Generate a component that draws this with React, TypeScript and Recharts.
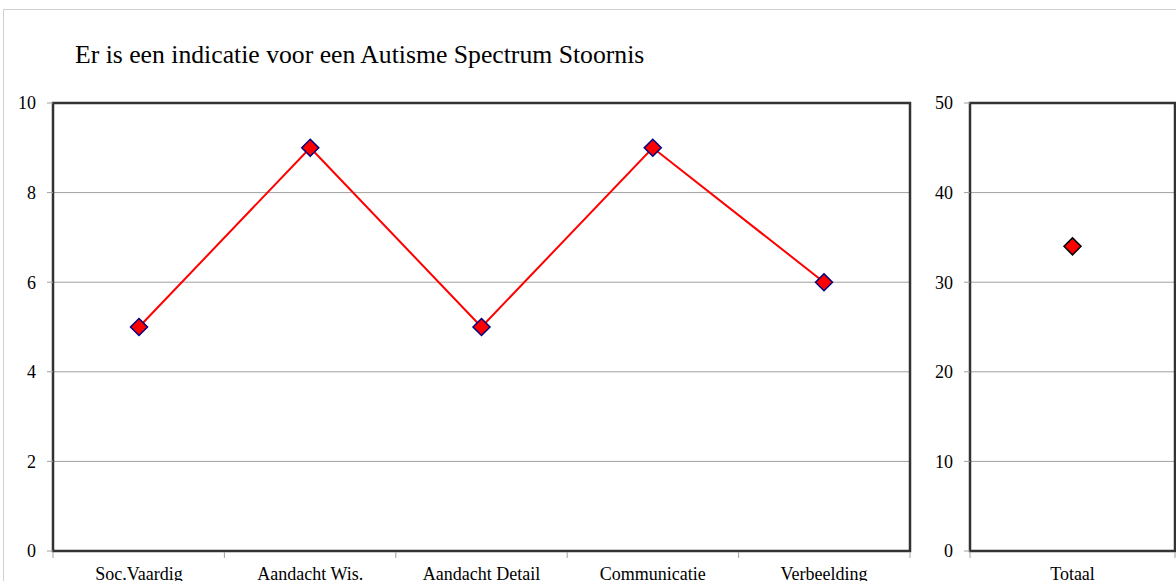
import React from "react";
import { LineChart, Line, XAxis, YAxis, CartesianGrid, ReferenceArea } from "recharts";

const title = "Er is een indicatie voor een Autisme Spectrum Stoornis";
const categories = ["Soc.Vaardig", "Aandacht Wis.", "Aandacht Detail", "Communicatie", "Verbeelding"];
const scores = [5, 9, 5, 9, 6];
const scoreTicks = [0, 2, 4, 6, 8, 10];
const totalCategories = ["Totaal"];
const totalScores = [34];
const totalTicks = [0, 10, 20, 30, 40, 50];

const data = categories.map((name, i) => ({ name, score: scores[i], edge: i + 0.5 }));
const totalData = totalCategories.map((name, i) => ({ name, score: totalScores[i], edge: i + 0.5 }));
// category boundaries, for the small tick marks between labels
const edges = [...categories.map((_, i) => i), categories.length];
const totalEdges = [...totalCategories.map((_, i) => i), totalCategories.length];

const font = "'Times New Roman', Times, 'Liberation Serif', 'DejaVu Serif', serif";
const tickStyle = { fill: "#000", fontSize: 18, fontFamily: font };
const gridColor = "#a0a0a0";
const frameColor = "#333";

const diamond = (stroke: string) => (props: any) => {
  const { cx, cy, index } = props;
  if (cx == null || cy == null) return <g key={index} />;
  const r = 8.5;
  return (
    <path
      key={index}
      d={`M${cx},${cy - r}L${cx + r},${cy}L${cx},${cy + r}L${cx - r},${cy}Z`}
      fill="#ff0000"
      stroke={stroke}
      strokeWidth={1.5}
    />
  );
};

const noLabel = (p: any) => <g key={p.index} />;

function Panel(props: {
  rows: { name: string; score: number; edge: number }[];
  ticks: number[];
  bounds: number[];
  width: number;
  left: number;
  marginLeft: number;
  marginRight: number;
  dotStroke: string;
}) {
  const { rows, ticks, bounds, width, left, marginLeft, marginRight, dotStroke } = props;
  const top = ticks[ticks.length - 1];
  const last = bounds[bounds.length - 1];
  return (
    <div style={{ position: "absolute", left, top: 0 }}>
      <LineChart
        width={width}
        height={581}
        data={rows}
        margin={{ top: 103, right: marginRight, bottom: 28, left: marginLeft }}
      >
        <XAxis
          xAxisId="edge"
          dataKey="edge"
          type="number"
          domain={[0, last]}
          allowDataOverflow
          ticks={bounds}
          tick={noLabel}
          axisLine={false}
          tickLine={{ stroke: gridColor }}
          tickSize={6}
          height={1}
        />
        <XAxis
          dataKey="name"
          scale="point"
          padding={rows.length > 1 ? { left: 86, right: 86 } : undefined}
          axisLine={false}
          tickLine={false}
          tickSize={6}
          tickMargin={10}
          tick={tickStyle}
          height={1}
          interval={0}
        />
        <YAxis
          domain={[0, top]}
          ticks={ticks}
          width={45}
          axisLine={false}
          tickLine={{ stroke: gridColor }}
          tickSize={6}
          tickMargin={11}
          tick={tickStyle}
        />
        <CartesianGrid vertical={false} stroke={gridColor} />
        <ReferenceArea
          xAxisId="edge"
          x1={0}
          x2={last}
          y1={0}
          y2={top}
          ifOverflow="visible"
          fill="none"
          fillOpacity={0}
          stroke={frameColor}
          strokeWidth={2.5}
          strokeOpacity={1}
        />
        <Line
          dataKey="score"
          stroke="#ff0000"
          strokeWidth={2}
          dot={diamond(dotStroke)}
          activeDot={false}
          isAnimationActive={false}
        />
      </LineChart>
    </div>
  );
}

export default function App() {
  return (
    <div
      style={{
        position: "absolute",
        left: 0,
        top: 0,
        width: 1176,
        height: 581,
        overflow: "hidden",
        background: "#fff",
      }}
    >
      <div
        style={{
          position: "absolute",
          left: 3,
          top: 9,
          width: 1300,
          height: 700,
          borderLeft: "1px solid #d0d0d0",
          borderTop: "1px solid #d0d0d0",
        }}
      />
      <div
        style={{
          position: "absolute",
          left: 75,
          top: 41.5,
          fontFamily: font,
          fontSize: 25.7,
          lineHeight: "26px",
          color: "#000",
          whiteSpace: "nowrap",
        }}
      >
        {title}
      </div>
      <Panel
        rows={data}
        ticks={scoreTicks}
        bounds={edges}
        width={930}
        left={0}
        marginLeft={8}
        marginRight={20}
        dotStroke="#000080"
      />
      <Panel
        rows={totalData}
        ticks={totalTicks}
        bounds={totalEdges}
        width={266}
        left={910}
        marginLeft={15}
        marginRight={1}
        dotStroke="#000"
      />
    </div>
  );
}
